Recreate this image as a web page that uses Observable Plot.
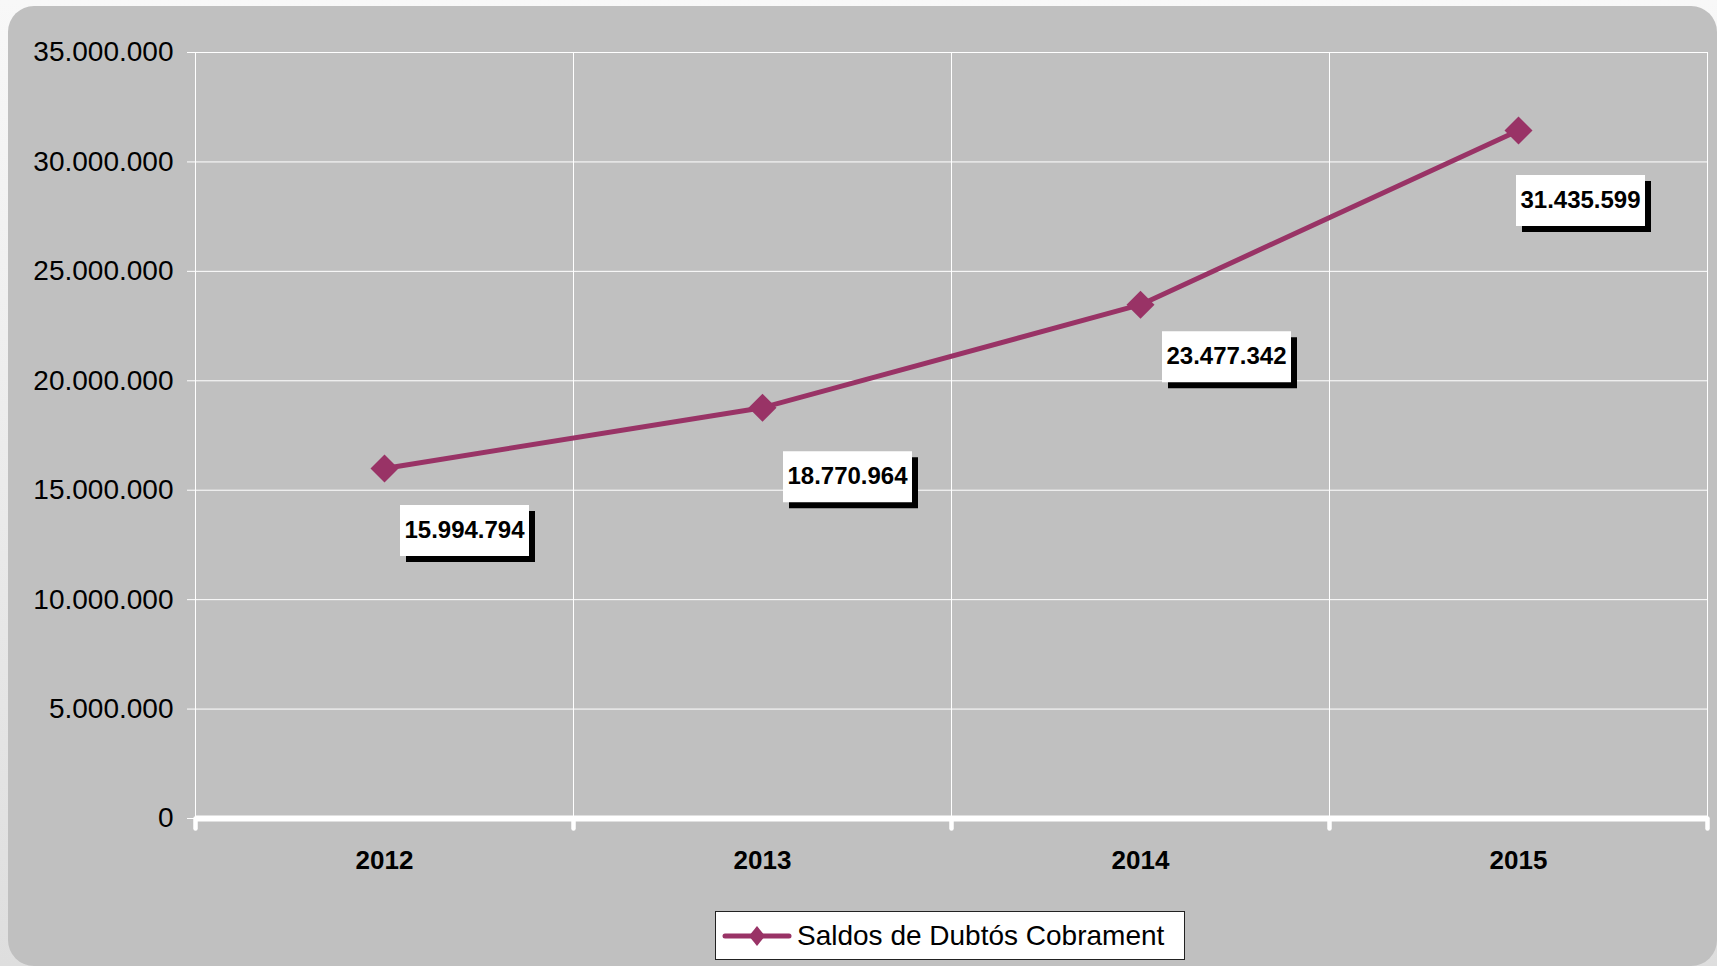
<!DOCTYPE html>
<html>
<head>
<meta charset="utf-8">
<script src="https://cdn.jsdelivr.net/npm/d3@7"></script>
<script src="https://cdn.jsdelivr.net/npm/@observablehq/plot@0.6"></script>
<style>
  html, body { margin: 0; padding: 0; }
  body {
    width: 1717px; height: 966px; overflow: hidden;
    background: linear-gradient(to bottom, #f8f8f8, #dedede);
    font-family: "Liberation Sans", Arial, sans-serif;
  }
  #wrap { position: relative; width: 1717px; height: 966px; }
  #panel {
    position: absolute; left: 8px; top: 6px; width: 1709px; height: 960px;
    background: #c0c0c0; border-radius: 26px;
  }
  #chart { position: absolute; left: 0; top: 0; }
  #legend {
    position: absolute; left: 715px; top: 911px; width: 470px; height: 49px;
    box-sizing: border-box; border: 1px solid #222; background: #fff;
    display: flex; align-items: center;
  }
  #legend svg { display: block; margin-left: 6px; }
  #legend span { font-size: 28px; color: #000; margin-left: 5px; white-space: nowrap; }
</style>
</head>
<body>
<div id="wrap">
  <div id="panel"></div>
  <div id="chart"></div>
  <div id="legend"></div>
</div>
<script>
// ---- data ----
const years = [2012, 2013, 2014, 2015];
const saldos = [15994794, 18770964, 23477342, 31435599];
const yTicks = [0, 5000000, 10000000, 15000000, 20000000, 25000000, 30000000, 35000000];
const seriesName = "Saldos de Dubtós Cobrament";

// ---- style constants (label nudges in pixels, not data) ----
const labelNudge = [[80, 62], [85, 69], [86, 52], [62, 70]];
const lineColor = "#993366";

const data = years.map((y, i) => ({year: y, value: saldos[i]}));
const bandEdges = years.map(y => y - 0.5).concat([years[years.length - 1] + 0.5]);

const locale = d3.formatLocale({decimal: ",", thousands: ".", grouping: [3], currency: ["", ""]});
const fmt = locale.format(",d");

const diamond = (s) => ({draw(ctx) { ctx.moveTo(0, -s); ctx.lineTo(s, 0); ctx.lineTo(0, s); ctx.lineTo(-s, 0); ctx.closePath(); }});
const boxSym = (w, h) => ({draw(ctx) { ctx.rect(-w / 2, -h / 2, w, h); }});
const downTick = {draw(ctx) { ctx.moveTo(0, 0); ctx.lineTo(0, 10); }};

const labelMarks = [];
data.forEach((d, i) => {
  const [dx, dy] = labelNudge[i];
  labelMarks.push(Plot.dot([d], {x: "year", y: "value", symbol: boxSym(129, 51), r: 1, fill: "#000", stroke: null, dx: dx + 6, dy: dy + 6}));
  labelMarks.push(Plot.dot([d], {x: "year", y: "value", symbol: boxSym(129, 51), r: 1, fill: "#fff", stroke: null, dx, dy}));
  labelMarks.push(Plot.text([d], {x: "year", y: "value", text: v => fmt(v.value), dx, dy, fontSize: 24, fontWeight: "bold", fill: "#000", lineAnchor: "middle", textAnchor: "middle"}));
});

const chart = Plot.plot({
  width: 1717,
  height: 890,
  marginLeft: 195,
  marginRight: 10,
  marginTop: 52,
  marginBottom: 72,
  style: {background: "transparent", fontFamily: "Liberation Sans, Arial, sans-serif", overflow: "visible"},
  x: {domain: [bandEdges[0], bandEdges[bandEdges.length - 1]]},
  y: {domain: [0, 35000000]},
  marks: [
    Plot.ruleY(yTicks, {stroke: "#fff", strokeWidth: 1, insetLeft: -8}),
    Plot.ruleX(bandEdges, {x: d => d, stroke: "#fff", strokeWidth: 1}),
    Plot.ruleY([0], {stroke: "#fff", strokeWidth: 6}),
    Plot.dot(bandEdges, {x: d => d, y: () => 0, symbol: downTick, r: 1, fill: "none", stroke: "#fff", strokeWidth: 4.5, strokeLinecap: "round"}),
    Plot.axisY({ticks: yTicks, tickFormat: fmt, tickSize: 0, tickPadding: 22, fontSize: 28, fill: "#000", label: null}),
    Plot.axisX({ticks: years, tickFormat: d => String(d), tickSize: 0, tickPadding: 32, fontSize: 26, fontWeight: "bold", fill: "#000", label: null}),
    Plot.line(data, {x: "year", y: "value", stroke: lineColor, strokeWidth: 5}),
    Plot.dot(data, {x: "year", y: "value", symbol: diamond(14), r: 1, fill: lineColor, stroke: null}),
    ...labelMarks
  ]
});
document.getElementById("chart").appendChild(chart);

// legend
const legend = document.getElementById("legend");
legend.innerHTML = `<svg width="70" height="30" viewBox="0 0 70 30">
  <line x1="3" y1="15" x2="67" y2="15" stroke="${lineColor}" stroke-width="5" stroke-linecap="round"/>
  <path d="M35,5 L43,15 L35,25 L27,15 Z" fill="${lineColor}"/>
</svg><span></span>`;
legend.querySelector("span").textContent = seriesName;
</script>
</body>
</html>
